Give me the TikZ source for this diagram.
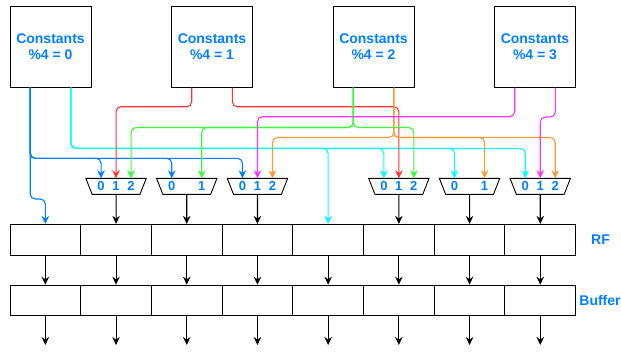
\documentclass[tikz,border=0pt]{standalone}
\usepackage{fontspec}
\setmainfont{Liberation Sans}
\usetikzlibrary{shapes.geometric,arrows.meta}

\definecolor{cblue}{HTML}{007FFF}
\definecolor{ccyan}{HTML}{00FFFF}
\definecolor{cred}{HTML}{FF3333}
\definecolor{cgreen}{HTML}{33FF33}
\definecolor{cmagenta}{HTML}{FF33FF}
\definecolor{corange}{HTML}{FF9933}

\newcommand{\threein}{\hbox to 37.2pt{0\hfill1\hfill2}}
\newcommand{\twoin}{\hbox to 37.2pt{0\hfill1}}

\tikzset{
  const/.style={draw, line width=1pt, minimum size=81pt, inner sep=0pt, align=center, text=cblue, font=\bfseries\fontsize{14}{16}\selectfont},
  cell/.style={draw, line width=0.9pt, minimum width=70.7pt, minimum height=30.7pt, inner sep=0pt},
  mux/.style={draw, line width=0.9pt, trapezium, trapezium stretches=true, trapezium angle=62, shape border rotate=180, minimum width=60.7pt, minimum height=16pt, inner sep=0pt, text=cblue, font=\bfseries\fontsize{13}{13}\selectfont},
  lbl/.style={text=cblue, font=\bfseries\fontsize{14}{16}\selectfont},
  arr/.style={line width=1.1pt, -{Stealth[length=8pt,width=7.5pt]}},
  wire/.style={arr, rounded corners=5pt},
}

\begin{document}
\begin{tikzpicture}[x=1pt,y=-1pt]
	\useasboundingbox (0,0) rectangle (621,351);
	
	\node[const] (c0) at (50.5,46.5) {Constants\\\%4 = 0};
	\node[const] (c1) at (212,46.5) {Constants\\\%4 = 1};
	\node[const] (c2) at (373.5,46.5) {Constants\\\%4 = 2};
	\node[const] (c3) at (535,46.5) {Constants\\\%4 = 3};
	\foreach \k in {0,...,3} {
		\coordinate (c\k L) at ([xshift=-20.3pt]c\k.south);
		\coordinate (c\k R) at ([xshift=20.3pt]c\k.south);
	}
	
	\foreach \i in {1,...,8} {
		\node[cell] (rf\i) at ({45.35+70.7*(\i-1)},239.7) {};
		\node[cell] (b\i) at ({45.35+70.7*(\i-1)},300.5) {};
		\coordinate (o\i) at ({45.35+70.7*(\i-1)},345);
		\draw[arr] (rf\i) -- (b\i);
		\draw[arr] (b\i) -- (o\i);
	}
	\node[lbl] (rflbl) at (600.5,239.7) {RF};
	\node[lbl] (buflbl) at (600,300.5) {Buffer};
	
	\node[mux] (m1) at (rf2 |- 0,186.3) {\threein};
	\node[mux] (m2) at (rf3 |- 0,186.3) {\twoin};
	\node[mux] (m3) at (rf4 |- 0,186.3) {\threein};
	\node[mux] (m4) at (rf6 |- 0,186.3) {\threein};
	\node[mux] (m5) at (rf7 |- 0,186.3) {\twoin};
	\node[mux] (m6) at (rf8 |- 0,186.3) {\threein};
	\foreach \m in {1,...,6} {
		\coordinate (m\m a) at ([xshift=-15pt,yshift=8pt]m\m.center);
		\coordinate (m\m c) at ([xshift=15pt,yshift=8pt]m\m.center);
	}
	\foreach \m in {1,3,4,6}
		\coordinate (m\m b) at ([yshift=8pt]m\m.center);
	\foreach \m/\r in {1/2,2/3,3/4,4/6,5/7,6/8}
		\draw[arr] (m\m) -- (rf\r);
	
	% constants to muxes
	\foreach \t in {m1a,m2a,m3a}
		\draw[wire,cblue] (c0L) |- (\t |- 0,158.3) -- (\t);
	\draw[wire,cblue] (c0L) |- (rf1.north |- 0,199) -- (rf1.north);
	\foreach \t in {rf5.north,m4a,m5a,m6a}
		\draw[wire,ccyan] (c0R) |- (\t |- 0,148.3) -- (\t);
	\draw[wire,cred] (c1L) |- (m1b |- 0,106.7) -- (m1b);
	\draw[wire,cred] (c1R) |- (m4b |- 0,106.7) -- (m4b);
	\foreach \t in {m1c,m2c,m4c}
		\draw[wire,cgreen] (c2L) |- (\t |- 0,127.5) -- (\t);
	\foreach \t in {m3c,m5c,m6c}
		\draw[wire,corange] (c2R) |- (\t |- 0,137.5) -- (\t);
	\draw[wire,cmagenta] (c3L) |- (m3b |- 0,116.7) -- (m3b);
	\draw[wire,cmagenta] (c3R) |- (m6b |- 0,117) -- (m6b);
	
\end{tikzpicture}
\end{document}
